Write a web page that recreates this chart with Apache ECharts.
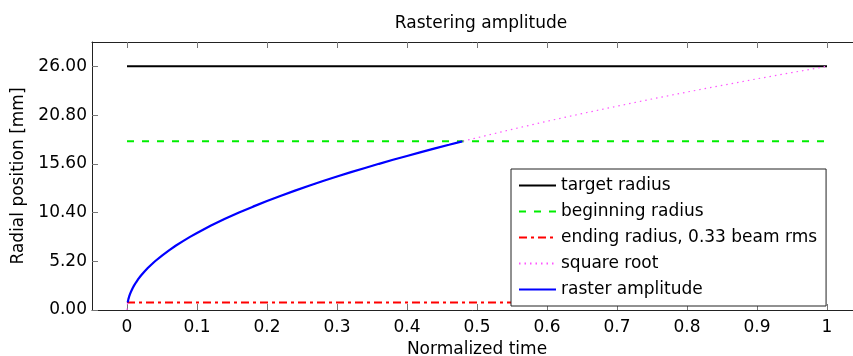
<!DOCTYPE html>
<html>
<head>
<meta charset="utf-8">
<script src="https://cdn.jsdelivr.net/npm/echarts@6/dist/echarts.min.js"></script>
<style>
  html, body { margin: 0; padding: 0; background: #fff; overflow: hidden; }
  #chart { width: 853px; height: 356px; }
</style>
</head>
<body>
<div id="chart"></div>
<script>
// Radii (mm)
const targetRadius = 26;
const beginningRadius = 18;
const endingRadius = 0.8;

// Square-root reference curve: normalized time vs radius (mm)
const sqrtTime = [0, 0.0002, 0.0005, 0.001, 0.002, 0.003, 0.004, 0.006, 0.008, 0.01, 0.013, 0.016, 0.02, 0.025, 0.03, 0.035, 0.04, 0.05, 0.06, 0.07, 0.08, 0.09, 0.1, 0.12, 0.14, 0.16, 0.18, 0.2, 0.22, 0.24, 0.26, 0.28, 0.3, 0.32, 0.34, 0.36, 0.38, 0.4, 0.42, 0.44, 0.46, 0.479, 0.5, 0.55, 0.6, 0.65, 0.7, 0.75, 0.8, 0.85, 0.9, 0.95, 1.0];
const sqrtRadius = [0, 0.37, 0.58, 0.82, 1.16, 1.42, 1.64, 2.01, 2.33, 2.60, 2.96, 3.29, 3.68, 4.11, 4.50, 4.86, 5.20, 5.81, 6.37, 6.88, 7.35, 7.80, 8.22, 9.01, 9.73, 10.40, 11.03, 11.63, 12.20, 12.74, 13.26, 13.76, 14.24, 14.71, 15.16, 15.60, 16.03, 16.44, 16.85, 17.25, 17.63, 18.00, 18.38, 19.28, 20.14, 20.96, 21.75, 22.52, 23.26, 23.97, 24.67, 25.34, 26.00];

// Raster amplitude: starts at the ending radius, follows the root up to the beginning radius
const rasterTime = [0.00095, 0.0015, 0.002, 0.003, 0.004, 0.006, 0.008, 0.01, 0.013, 0.016, 0.02, 0.025, 0.03, 0.035, 0.04, 0.05, 0.06, 0.07, 0.08, 0.09, 0.1, 0.12, 0.14, 0.16, 0.18, 0.2, 0.22, 0.24, 0.26, 0.28, 0.3, 0.32, 0.34, 0.36, 0.38, 0.4, 0.42, 0.44, 0.46, 0.479];
const rasterRadius = [0.80, 1.01, 1.16, 1.42, 1.64, 2.01, 2.33, 2.60, 2.96, 3.29, 3.68, 4.11, 4.50, 4.86, 5.20, 5.81, 6.37, 6.88, 7.35, 7.80, 8.22, 9.01, 9.73, 10.40, 11.03, 11.63, 12.20, 12.74, 13.26, 13.76, 14.24, 14.71, 15.16, 15.60, 16.03, 16.44, 16.85, 17.25, 17.63, 18.00];

// Tick positions and axis extents
const xTicks = [0, 0.1, 0.2, 0.3, 0.4, 0.5, 0.6, 0.7, 0.8, 0.9, 1];
const yTicks = [0, 5.2, 10.4, 15.6, 20.8, 26];
const xRange = [-0.05, 1.05];
const yRange = [0, 28.6];

const zip = (xs, ys) => xs.map((x, i) => [x, ys[i]]);
const FONT = 'DejaVu Sans';

const chart = echarts.init(document.getElementById('chart'), null, { renderer: 'canvas' });

const tickStyle = { show: true, inside: true, length: 6, lineStyle: { color: '#777', width: 1 } };
const lineAxis = { show: true, onZero: false, lineStyle: { color: '#222', width: 1 } };

chart.setOption({
  animation: false,
  backgroundColor: '#fff',
  title: {
    text: 'Rastering amplitude',
    left: 476,
    top: 10,
    textAlign: 'center',
    textStyle: { fontFamily: FONT, fontSize: 17, fontWeight: 'normal', color: '#000' }
  },
  // plot box runs past the right edge of the canvas
  grid: { show: false, left: 92, top: 42, right: -9, bottom: 46, containLabel: false, outerBoundsMode: 'none' },
  legend: {
    orient: 'vertical',
    left: 511,
    top: 169,
    padding: [8, 9, 8, 7],
    itemGap: 9,
    itemWidth: 37,
    itemHeight: 10,
    backgroundColor: '#fff',
    borderColor: '#222',
    borderWidth: 1,
    borderRadius: 0,
    itemStyle: { opacity: 0 },
    textStyle: { fontFamily: FONT, fontSize: 17, color: '#000', lineHeight: 17 },
    data: ['target radius', 'beginning radius', 'ending radius, 0.33 beam rms', 'square root', 'raster amplitude']
  },
  xAxis: [
    {
      type: 'value', position: 'bottom', min: xRange[0], max: xRange[1],
      name: 'Normalized time', nameLocation: 'middle', nameGap: 31,
      nameTextStyle: { fontFamily: FONT, fontSize: 17, color: '#000' },
      axisLine: lineAxis,
      axisTick: Object.assign({ customValues: xTicks }, tickStyle),
      axisLabel: { customValues: xTicks, margin: 9, fontFamily: FONT, fontSize: 17, color: '#000',
                   formatter: v => String(Math.round(v * 10) / 10) },
      splitLine: { show: false }
    },
    {
      type: 'value', position: 'top', min: xRange[0], max: xRange[1],
      axisLine: lineAxis,
      axisTick: Object.assign({ customValues: xTicks }, tickStyle),
      axisLabel: { show: false },
      splitLine: { show: false }
    }
  ],
  yAxis: {
    type: 'value', position: 'left', min: yRange[0], max: yRange[1],
    name: 'Radial position [mm]', nameLocation: 'middle', nameGap: 57,
    nameTextStyle: { fontFamily: FONT, fontSize: 17, color: '#000' },
    axisLine: lineAxis,
    axisTick: Object.assign({ customValues: yTicks }, tickStyle),
    axisLabel: { customValues: yTicks, margin: 5, fontFamily: FONT, fontSize: 17, color: '#000',
                 formatter: v => v.toFixed(2) },
    splitLine: { show: false }
  },
  series: [
    {
      name: 'target radius', type: 'line', symbol: 'none',
      data: [[0, targetRadius], [1, targetRadius]],
      lineStyle: { color: '#000', width: 2 }, itemStyle: { color: '#000' }
    },
    {
      name: 'beginning radius', type: 'line', symbol: 'none',
      data: [[0, beginningRadius], [1, beginningRadius]],
      lineStyle: { color: '#00ee00', width: 2, type: [7, 8] }, itemStyle: { color: '#00ee00' }
    },
    {
      name: 'ending radius, 0.33 beam rms', type: 'line', symbol: 'none',
      data: [[0, endingRadius], [1, endingRadius]],
      lineStyle: { color: '#ff0000', width: 2, type: [8, 4, 3, 4] }, itemStyle: { color: '#ff0000' }
    },
    {
      name: 'square root', type: 'line', symbol: 'none',
      data: zip(sqrtTime, sqrtRadius),
      lineStyle: { color: '#ff55ff', width: 1.2, type: [1.5, 4] }, itemStyle: { color: '#ff55ff' }
    },
    {
      name: 'raster amplitude', type: 'line', symbol: 'none',
      data: zip(rasterTime, rasterRadius),
      lineStyle: { color: '#0000ff', width: 2.2 }, itemStyle: { color: '#0000ff' }
    }
  ]
});
</script>
</body>
</html>
